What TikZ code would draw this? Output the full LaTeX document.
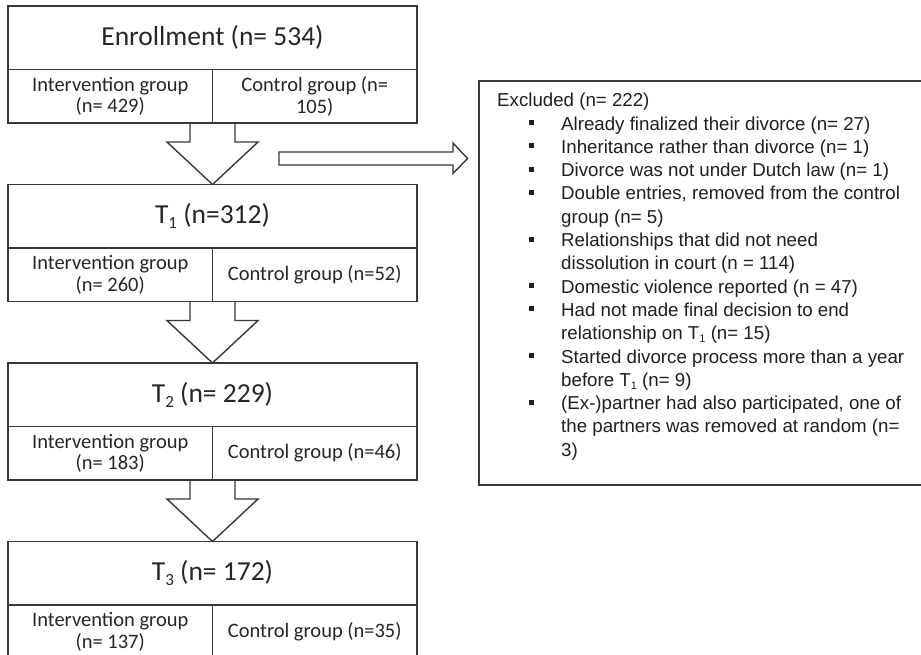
\documentclass[tikz,border=0pt]{standalone}
\usepackage{fontspec}
\setmainfont{Carlito}
\newfontfamily\arialf{Liberation Sans}
\usetikzlibrary{calc}
\newcommand\blt{\hspace*{32pt}\rule[5pt]{5pt}{5pt}}
\newcommand\sbs[1]{\raisebox{-3pt}{\fontsize{11}{11}\selectfont #1}}
\newcommand\tsub[1]{\raisebox{-5pt}{\fontsize{17}{17}\selectfont #1}}
\begin{document}
\begin{tikzpicture}[x=1pt,y=-1pt,
  ln/.style={draw=black!78, line width=1.4pt},
  titlebox/.style={ln, rectangle, inner sep=0pt, outer sep=0pt,
    minimum width=409pt, minimum height=63.5pt, anchor=north west,
    font=\fontsize{27.5}{30}\selectfont, text=black!85},
  cellbox/.style={ln, rectangle, inner sep=0pt, outer sep=0pt,
    minimum width=204.5pt, minimum height=53.5pt, anchor=north west,
    align=center, font=\fontsize{20.5}{21.7}\selectfont, text=black!85},
  blk/.style={ln, line join=miter},
]
\useasboundingbox (0,0) rectangle (921,654);
\clip (0,0) rectangle (921,654);

% stage boxes
\node[titlebox] (t0) at (8,6) {Enrollment (n= 534)};
\node[cellbox] (i0) at (8,69.5) {Intervention group\\(n= 429)};
\node[cellbox] (c0) at (212.5,69.5) {Control group (n=\\105)};

\node[titlebox] (t1) at (8,184.5) {T\tsub{1} (n=312)};
\node[cellbox] (i1) at (8,248) {Intervention group\\(n= 260)};
\node[cellbox] (c1) at (212.5,248) {Control group (n=52)};

\node[titlebox] (t2) at (8,363) {T\tsub{2} (n= 229)};
\node[cellbox] (i2) at (8,426.5) {Intervention group\\(n= 183)};
\node[cellbox] (c2) at (212.5,426.5) {Control group (n=46)};

\node[titlebox] (t3) at (8,541.5) {T\tsub{3} (n= 172)};
\node[cellbox] (i3) at (8,605) {Intervention group\\(n= 137)};
\node[cellbox] (c3) at (212.5,605) {Control group (n=35)};

% block arrows between stages
\foreach \a/\b in {0/1,1/2,2/3}{
  \coordinate (s\a) at (i\a.south east);
  \draw[blk] ($(s\a)+(-22.5,0)$) -- ($(s\a)+(-22.5,19)$) -- ($(s\a)+(-45.5,19)$)
    -- (t\b.north) -- ($(s\a)+(45.5,19)$) -- ($(s\a)+(22.5,19)$) -- ($(s\a)+(22.5,0)$);
}

% exclusion arrow
\coordinate (ha) at (279,158.5);
\draw[blk] ($(ha)+(0,-6.5)$) -- ($(ha)+(174,-6.5)$) -- ($(ha)+(174,-15.5)$)
  -- ($(ha)+(188.5,0)$) -- ($(ha)+(174,15)$) -- ($(ha)+(174,6.5)$)
  -- ($(ha)+(0,6.5)$) -- cycle;

% excluded box
\node[ln, rectangle, inner sep=0pt, outer sep=0pt, anchor=north west,
  minimum width=450pt, minimum height=404pt] (excl) at (479,81) {};
\node[anchor=base west, inner sep=0pt, text=black!88,
  font=\arialf\fontsize{18.7}{23.3}\selectfont] (extxt) at (497,106.7)
{\begin{tabular}[t]{@{}p{64pt}@{}l@{}}
\multicolumn{2}{@{}l@{}}{Excluded (n= 222)}\\
\blt & Already finalized their divorce (n= 27)\\
\blt & Inheritance rather than divorce (n= 1)\\
\blt & Divorce was not under Dutch law (n= 1)\\
\blt & Double entries, removed from the control\\
     & group (n= 5)\\
\blt & Relationships that did not need\\
     & dissolution in court (n = 114)\\
\blt & Domestic violence reported (n = 47)\\
\blt & Had not made final decision to end\\
     & relationship on T\sbs{1} (n= 15)\\
\blt & Started divorce process more than a year\\
     & before T\sbs{1} (n= 9)\\
\blt & (Ex-)partner had also participated, one of\\
     & the partners was removed at random (n=\\
     & 3)
\end{tabular}};
\end{tikzpicture}
\end{document}
